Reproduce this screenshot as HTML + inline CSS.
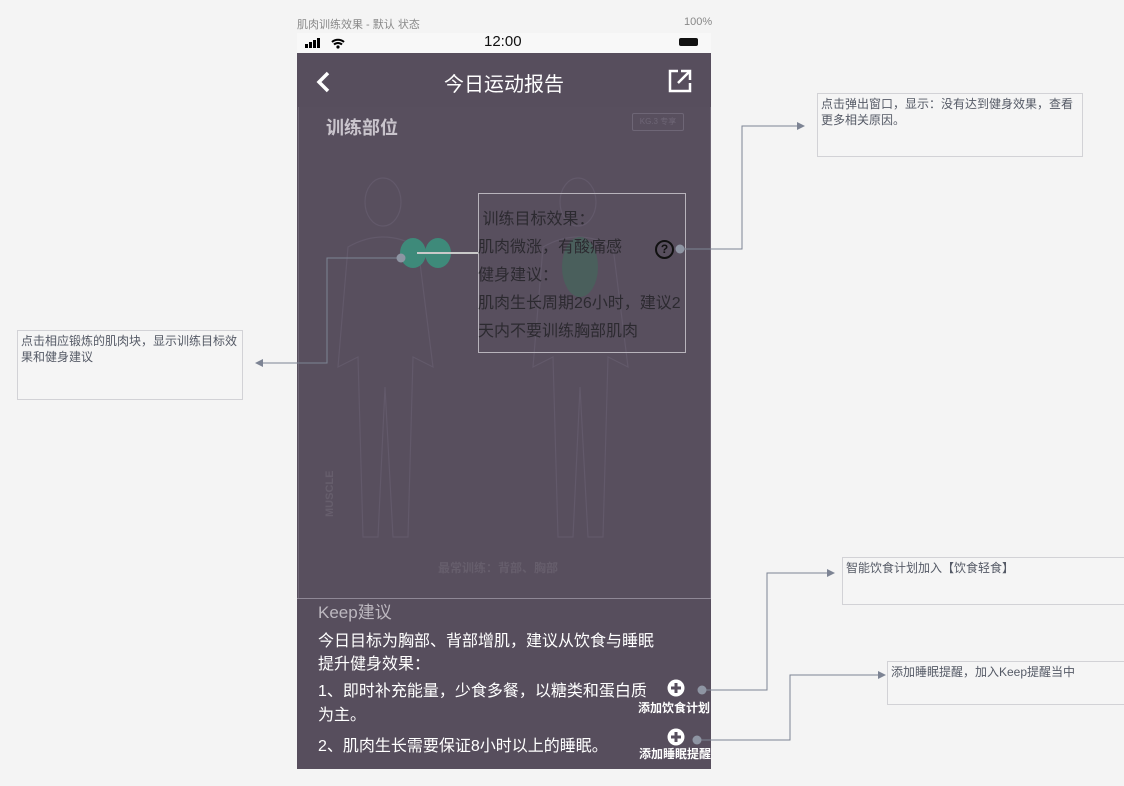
<!DOCTYPE html>
<html><head><meta charset="utf-8"><style>
body{margin:0;width:1124px;height:786px;background:#f4f4f4;position:relative;overflow:hidden;font-family:"Liberation Sans","Noto Sans CJK SC",sans-serif}
.a{position:absolute;white-space:nowrap}
.note{position:absolute;border:1px solid #d2d2d6;background:#f5f5f5;font-size:12px;color:#555a66;line-height:16px;padding:2px 3px;box-sizing:border-box;white-space:normal}
</style></head><body>
<div class="a" style="left:297px;top:16px;font-size:11px;color:#888">肌肉训练效果 - 默认 状态</div>
<div class="a" style="left:684px;top:16px;font-size:11px;color:#888">100%</div>
<div class="a" style="left:297px;top:33px;width:414px;height:20px;background:#f8f8f8"></div>
<div class="a" style="left:484px;top:33px;font-size:15px;color:#111">12:00</div>
<svg class="a" style="left:304px;top:36px" width="50" height="14"><rect x="1" y="8" width="3" height="4"/><rect x="5" y="6" width="3" height="6"/><rect x="9" y="4" width="3" height="8"/><rect x="13" y="2" width="3" height="10"/><path d="M28 6a9 9 0 0 1 12 0M30 8.5a6 6 0 0 1 8 0" stroke="#000" stroke-width="2" fill="none"/><circle cx="34" cy="11" r="1.6"/></svg>
<div class="a" style="left:679px;top:38px;width:19px;height:8px;background:#111;border-radius:2px"></div>
<div class="a" style="left:297px;top:53px;width:414px;height:716px;background:#574e5d"></div>
<div class="a" style="left:298px;top:107px;width:411px;height:491px;border:1px solid #6e6675;border-top:none;background:#584f5e"></div>
<div class="a" style="left:297px;top:598px;width:414px;height:1px;background:#8f8896"></div>
<svg class="a" style="left:314px;top:70px" width="20" height="24"><path d="M14 3 L5 12 L14 21" stroke="#fff" stroke-width="3.5" fill="none"/></svg>
<div class="a" style="left:444px;top:68px;font-size:20px;color:#fff">今日运动报告</div>
<svg class="a" style="left:668px;top:69px" width="24" height="24"><path d="M10 2H2V22H22V14" stroke="#fff" stroke-width="2.5" fill="none"/><path d="M10 14L21 3M13 2H22V11" stroke="#fff" stroke-width="2.5" fill="none"/></svg>
<div class="a" style="left:326px;top:114px;font-size:18px;font-weight:bold;color:#c9c4cc">训练部位</div>
<div class="a" style="left:632px;top:113px;width:50px;height:16px;border:1px solid #6e6676;border-radius:2px;font-size:8px;color:#6e6676;text-align:center;line-height:16px">KG.3 专享</div>
<svg class="a" style="left:298px;top:107px" width="411" height="491">
<g stroke="#62596a" stroke-width="1.2" fill="none">
<ellipse cx="85" cy="95" rx="18" ry="24"/><path d="M50 140 Q85 120 120 140 L135 260 L115 250 L110 430 L95 430 L87 280 L80 430 L65 430 L60 250 L40 260 Z"/>
<ellipse cx="280" cy="95" rx="18" ry="24"/><path d="M245 140 Q280 120 315 140 L330 260 L310 250 L305 430 L290 430 L282 280 L275 430 L260 430 L255 250 L235 260 Z"/>
</g>
<ellipse cx="115" cy="146" rx="13" ry="15" fill="#3e8a7a"/><ellipse cx="140" cy="146" rx="13" ry="15" fill="#3e8a7a"/>
<ellipse cx="282" cy="160" rx="18" ry="30" fill="#4a5f5c"/>
<text x="35" y="410" font-size="11" fill="#665e6c" transform="rotate(-90 35 410)" font-weight="bold">MUSCLE</text>
<text x="140" y="465" font-size="12" fill="#665e6c" font-weight="bold">最常训练：背部、胸部</text>
</svg>
<div class="a" style="left:478px;top:193px;width:206px;height:158px;border:1px solid #b8b4bc"></div>
<div class="a" style="left:478px;top:206px;font-size:16px;color:#2c2a30;line-height:28px;white-space:normal;width:215px">&nbsp;训练目标效果：<br>肌肉微涨，有酸痛感<br>健身建议：<br><span style="line-height:25px">肌肉生长周期26小时，建议2<br>天内不要训练胸部肌肉</span></div>
<div class="a" style="left:655px;top:240px;width:15px;height:15px;border:2px solid #111;border-radius:50%;font-size:12px;font-weight:bold;text-align:center;line-height:15px;color:#111">?</div>
<svg class="a" style="left:0;top:0" width="1124" height="786">
<g stroke="#7d8494" stroke-width="1" fill="none">
<path d="M417 253H478" stroke="#c9c9c9" stroke-width="2"/>
<path d="M401 258H327V363H262"/>
<path d="M680 249H742V126H798"/>
<path d="M702 690H767V573H828"/>
<path d="M697 740H790V675H879"/>
</g>
<g fill="#7d8494"><path d="M255 363l8-4v8z"/><path d="M805 126l-8-4v8z"/><path d="M835 573l-8-4v8z"/><path d="M886 675l-8-4v8z"/></g>
<g fill="#8e95a3"><circle cx="401" cy="258" r="4.5"/><circle cx="680" cy="249" r="4.5"/><circle cx="702" cy="690" r="4.5"/><circle cx="697" cy="740" r="4.5"/></g>
</svg>
<div class="note" style="left:17px;top:330px;width:226px;height:70px">点击相应锻炼的肌肉块，显示训练目标效果和健身建议</div>
<div class="note" style="left:817px;top:93px;width:266px;height:64px">点击弹出窗口，显示：没有达到健身效果，查看更多相关原因。</div>
<div class="note" style="left:842px;top:557px;width:290px;height:48px">智能饮食计划加入【饮食轻食】</div>
<div class="note" style="left:887px;top:661px;width:245px;height:44px">添加睡眠提醒，加入Keep提醒当中</div>
<div class="a" style="left:318px;top:598px;font-size:17px;color:#bdb8c0">Keep建议</div>
<div class="a" style="left:318px;top:630px;font-size:16px;color:#fff;line-height:23px;white-space:normal;width:345px">今日目标为胸部、背部增肌，建议从饮食与睡眠提升健身效果：</div>
<div class="a" style="left:318px;top:680px;font-size:16px;color:#fff;line-height:24px;white-space:normal;width:332px">1、即时补充能量，少食多餐，以糖类和蛋白质为主。</div>
<div class="a" style="left:318px;top:732px;font-size:16px;color:#fff">2、肌肉生长需要保证8小时以上的睡眠。</div>
<svg class="a" style="left:667px;top:679px" width="18" height="18"><circle cx="9" cy="9" r="8.5" fill="#fff"/><path d="M9 4V14M4 9H14" stroke="#574e5d" stroke-width="3"/></svg>
<svg class="a" style="left:667px;top:728px" width="18" height="18"><circle cx="9" cy="9" r="8.5" fill="#fff"/><path d="M9 4V14M4 9H14" stroke="#574e5d" stroke-width="3"/></svg>
<div class="a" style="left:638px;top:699px;font-size:12px;font-weight:bold;color:#fff">添加饮食计划</div>
<div class="a" style="left:639px;top:745px;font-size:12px;font-weight:bold;color:#fff">添加睡眠提醒</div>
</body></html>
